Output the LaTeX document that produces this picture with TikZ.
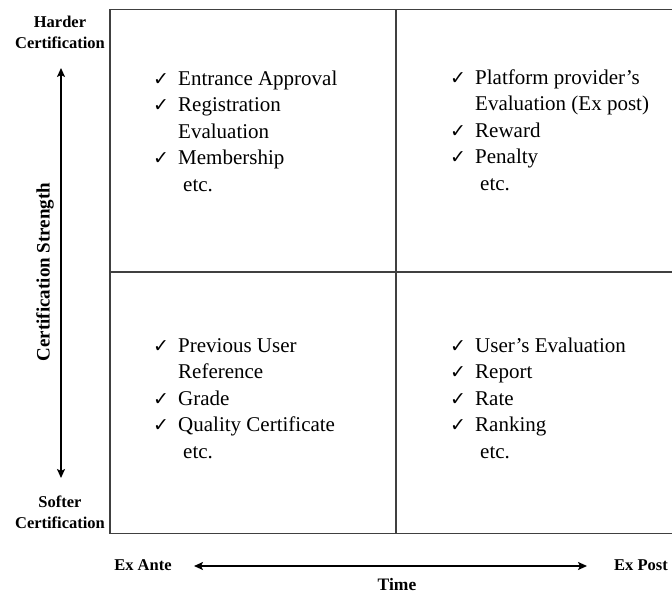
\documentclass[tikz,border=0pt]{standalone}
\usepackage{fontspec}
\setmainfont{Liberation Serif}
\newfontfamily\chkfont{DejaVu Sans}
\usetikzlibrary{arrows.meta}
\newcommand{\chk}{\makebox[25pt][l]{\chkfont\fontsize{19}{19}\selectfont ✓}}
\newcommand{\cont}{\hspace*{25pt}}
\newcommand{\etcline}{\hspace*{30pt}etc.}
\newcommand{\itemrow}[1]{\hbox{#1}}

\begin{document}
\begin{tikzpicture}[x=1pt,y=-1pt,line cap=butt,
  cell/.style={anchor=base west,inner sep=0pt,font=\fontsize{21}{26.6}\selectfont},
  axislabel/.style={font=\bfseries\fontsize{16.5}{21}\selectfont,align=center},
  gridline/.style={draw=black!75,line width=1.4pt},
  axisarrow/.style={{Stealth[length=9pt,width=8pt,inset=2pt]}-{Stealth[length=9pt,width=8pt,inset=2pt]},line width=1.8pt}]
\useasboundingbox (0,0) rectangle (672,597);
% quadrant frame
\draw[gridline] (672,9.5) -- (110,9.5) -- (110,533.5) -- (672,533.5);
\draw[gridline] (110,272) -- (672,272);
\draw[gridline] (396,9.5) -- (396,533.5);
% quadrant contents
\node[cell] (nw) at (153,85) {\vtop{\itemrow{\chk Entrance Approval}\itemrow{\chk Registration}\itemrow{\cont Evaluation}\itemrow{\chk Membership}\itemrow{\etcline}}};
\node[cell] (ne) at (450,84) {\vtop{\itemrow{\chk Platform provider's}\itemrow{\cont Evaluation (Ex post)}\itemrow{\chk Reward}\itemrow{\chk Penalty}\itemrow{\etcline}}};
\node[cell] (sw) at (153,352) {\vtop{\itemrow{\chk Previous User}\itemrow{\cont Reference}\itemrow{\chk Grade}\itemrow{\chk Quality Certificate}\itemrow{\etcline}}};
\node[cell] (se) at (450,352) {\vtop{\itemrow{\chk User's Evaluation}\itemrow{\chk Report}\itemrow{\chk Rate}\itemrow{\chk Ranking}\itemrow{\etcline}}};
% vertical axis
\node[axislabel] (harder) at (60,32) {Harder\\Certification};
\node[axislabel] (softer) at (60,512) {Softer\\Certification};
\node[axislabel,font=\bfseries\fontsize{19}{19}\selectfont,rotate=90] (strength) at (45,272) {Certification Strength};
\coordinate (hardtip) at (61,68);
\coordinate (softtip) at (61,478);
\draw[axisarrow] (hardtip) -- (softtip);
% horizontal axis
\node[axislabel] (exante) at (143,565) {Ex Ante};
\node[axislabel] (expost) at (641,565) {Ex Post};
\node[axislabel,font=\bfseries\fontsize{17.5}{17.5}\selectfont] (time) at (397,585) {Time};
\coordinate (antetip) at (194,566);
\coordinate (posttip) at (587,566);
\draw[axisarrow] (antetip) -- (posttip);
\end{tikzpicture}
\end{document}
